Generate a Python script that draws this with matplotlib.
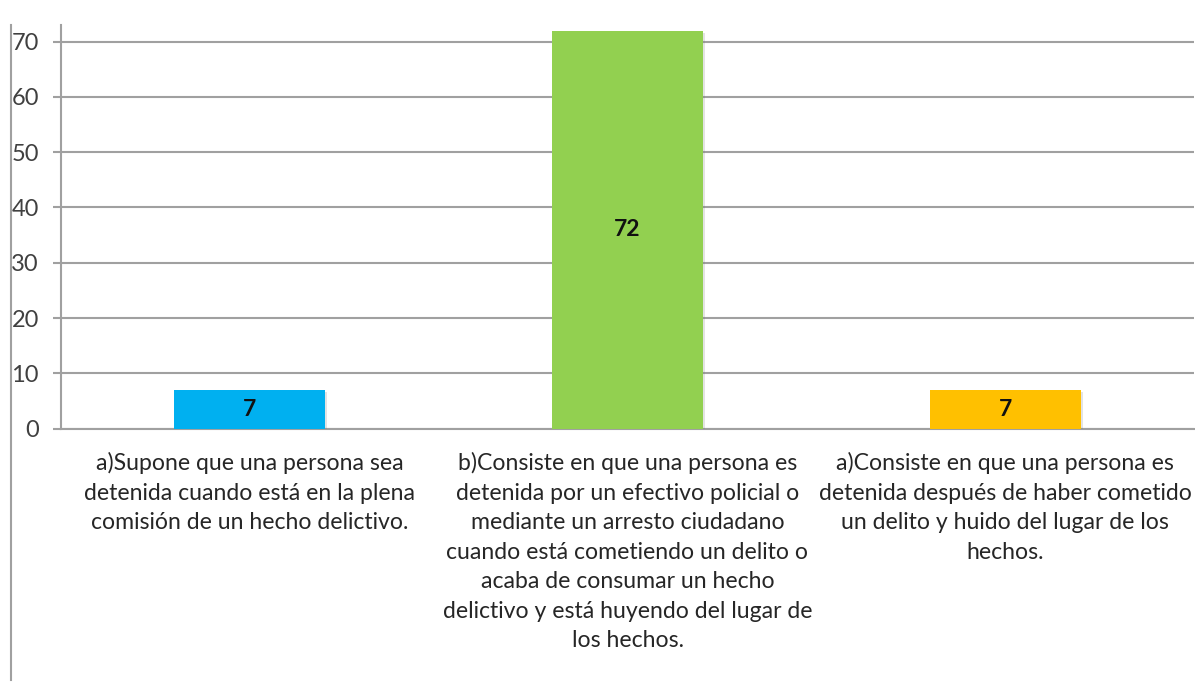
import matplotlib
matplotlib.use("Agg")
import matplotlib.pyplot as plt
from matplotlib.lines import Line2D
import matplotlib.patheffects as pe

categories = [
    "a)Supone que una persona sea\ndetenida cuando está en la plena\ncomisión de un hecho delictivo.",
    "b)Consiste en que una persona es\ndetenida por un efectivo policial o\nmediante un arresto ciudadano\ncuando está cometiendo un delito o\nacaba de consumar un hecho\ndelictivo y está huyendo del lugar de\nlos hechos.",
    "a)Consiste en que una persona es\ndetenida después de haber cometido\nun delito y huido del lugar de los\nhechos.",
]
values = [7, 72, 7]
colors = ["#00B0F0", "#92D050", "#FFC000"]
yticks = [0, 10, 20, 30, 40, 50, 60, 70]

plt.rcParams['font.family'] = ['Lato', 'DejaVu Sans']

W, H = 1195, 684
fig = plt.figure(figsize=(W / 100, H / 100), dpi=100)
ax = fig.add_axes([61 / W, (H - 428.7) / H, (1194 - 61) / W, (428.7 - 25) / H])

x = list(range(len(values)))
bars = ax.bar(x, values, width=0.4, color=colors, zorder=3)
for b in bars:
    b.set_path_effects([pe.SimplePatchShadow(offset=(1.5, -1.5), alpha=0.2, shadow_rgbFace='#777777'), pe.Normal()])
for xi, v in zip(x, values):
    ax.text(xi, v / 2, str(v), ha='center', va='center', fontsize=16.5,
            fontweight='bold', color='#111111', zorder=4)

ax.set_xlim(-0.5, len(values) - 0.5)
ax.set_ylim(0, 73)
ax.set_yticks(yticks)
ax.set_yticklabels([str(t) for t in yticks], fontsize=17, color='#404040')
ax.tick_params(axis='y', length=6, width=1.5, color='#a0a0a0', pad=10)
ax.yaxis.grid(True, color='#a0a0a0', linewidth=1.5, zorder=0)
ax.set_axisbelow(True)

ax.set_xticks(x)
ax.set_xticklabels(categories, fontsize=16.6, color='#262626', linespacing=1.5, va='top')
ax.tick_params(axis='x', length=0, pad=17)

for s in ['top', 'right']:
    ax.spines[s].set_visible(False)
ax.spines['bottom'].set_color('#a0a0a0')
ax.spines['bottom'].set_linewidth(1.5)
ax.spines['left'].set_color('#a0a0a0')
ax.spines['left'].set_linewidth(1.5)

fig.add_artist(Line2D([11 / W, 11 / W], [(H - 25) / H, (H - 680) / H],
                      transform=fig.transFigure, color='#a0a0a0', linewidth=1.5))

fig.savefig("out.png", dpi=100, facecolor='white')
